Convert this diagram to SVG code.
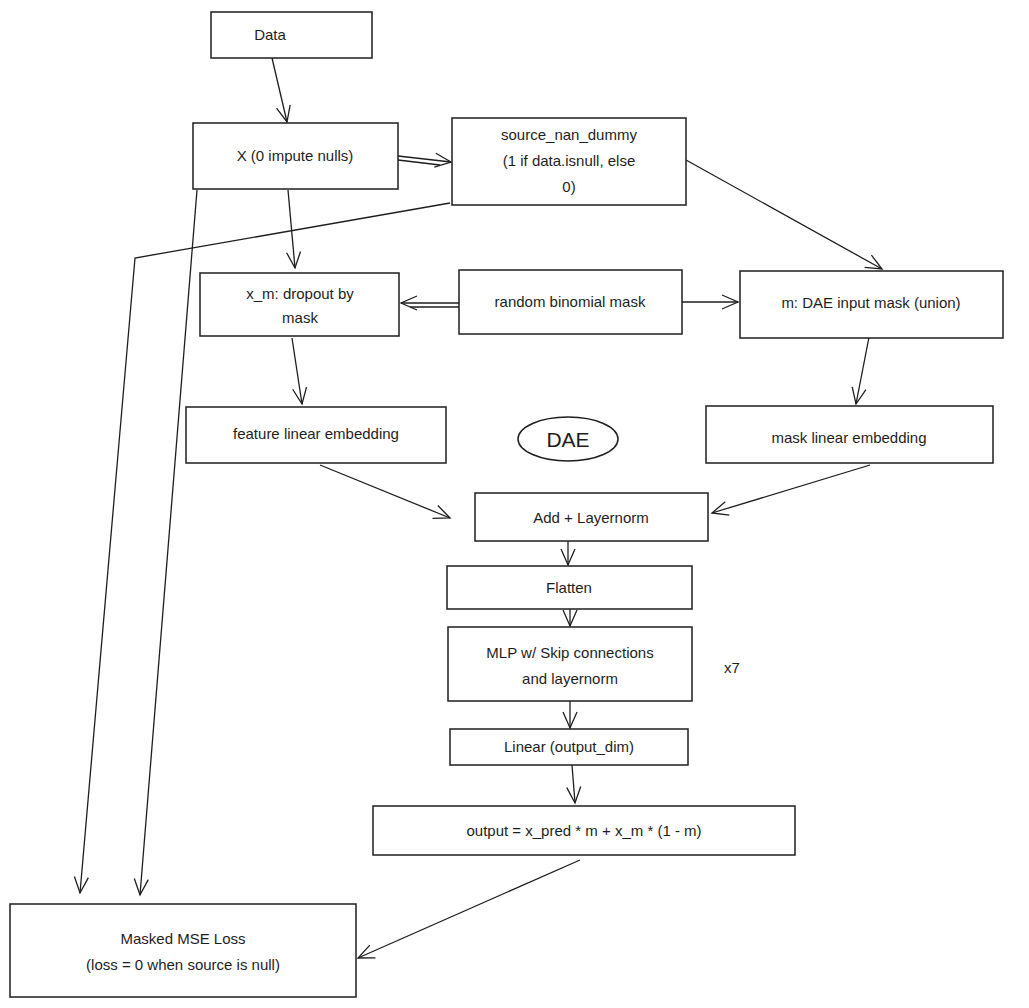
<svg xmlns="http://www.w3.org/2000/svg" width="1029" height="1008" viewBox="0 0 1029 1008">
<style>
.n{fill:#fff;stroke:#1e1e1e;stroke-width:1.5}
.t{font-family:"Liberation Sans",sans-serif;font-size:15px;fill:#1e1e1e;text-anchor:middle}
.c line,.c polyline{stroke:#1e1e1e;stroke-width:1.3;fill:none}
</style>
<defs><marker id="a" viewBox="0 0 20 20" refX="18" refY="10" markerWidth="20" markerHeight="20" markerUnits="userSpaceOnUse" orient="auto"><path d="M2,3 L18,10 L2,17" fill="none" stroke="#1e1e1e" stroke-width="1.3"/></marker></defs>
<rect width="1029" height="1008" fill="#fff"/>
<g class="c">
<line x1="272" y1="58" x2="287" y2="122" marker-end="url(#a)"/>
<line x1="398" y1="156" x2="451" y2="162" marker-end="url(#a)"/>
<line x1="398" y1="160" x2="440" y2="165"/>
<line x1="288" y1="190" x2="295" y2="268" marker-end="url(#a)"/>
<line x1="686" y1="160" x2="882" y2="269" marker-end="url(#a)"/>
<polyline points="450,203 135,258 80,893" marker-end="url(#a)"/>
<line x1="197" y1="190" x2="140" y2="895" marker-end="url(#a)"/>
<line x1="459" y1="303" x2="401" y2="303" marker-end="url(#a)"/>
<line x1="459" y1="307" x2="410" y2="307"/>
<line x1="682" y1="302" x2="738" y2="302" marker-end="url(#a)"/>
<line x1="292" y1="338" x2="302" y2="404" marker-end="url(#a)"/>
<line x1="870" y1="332" x2="856" y2="404" marker-end="url(#a)"/>
<line x1="320" y1="465" x2="450" y2="518" marker-end="url(#a)"/>
<line x1="870" y1="465" x2="712" y2="513" marker-end="url(#a)"/>
<line x1="568" y1="541" x2="568" y2="565" marker-end="url(#a)"/>
<line x1="570" y1="609" x2="570" y2="626" marker-end="url(#a)"/>
<line x1="570" y1="701" x2="570" y2="728" marker-end="url(#a)"/>
<line x1="572" y1="765" x2="575" y2="803" marker-end="url(#a)"/>
<line x1="580" y1="860" x2="358" y2="958" marker-end="url(#a)"/>
</g>
<g id="data"><rect class="n" x="211" y="12" width="161" height="46"/><text class="t" x="270" y="40">Data</text></g>
<g id="x"><rect class="n" x="193" y="123" width="205" height="66"/><text class="t" x="295" y="161">X (0 impute nulls)</text></g>
<g id="src"><rect class="n" x="452" y="118" width="234" height="87"/><text class="t" x="569" y="140">source_nan_dummy</text><text class="t" x="569" y="166">(1 if data.isnull, else</text><text class="t" x="569" y="192">0)</text></g>
<g id="xm"><rect class="n" x="200" y="273" width="199" height="63"/><text class="t" x="300" y="299">x_m: dropout by</text><text class="t" x="300" y="323">mask</text></g>
<g id="rbm"><rect class="n" x="459" y="270" width="223" height="64"/><text class="t" x="570" y="307">random binomial mask</text></g>
<g id="m"><rect class="n" x="740" y="271" width="263" height="67"/><text class="t" x="871" y="308">m: DAE input mask (union)</text></g>
<g id="fle"><rect class="n" x="186" y="407" width="260" height="56"/><text class="t" x="316" y="439">feature linear embedding</text></g>
<g id="dae"><ellipse cx="568" cy="439" rx="50" ry="22" fill="#fff" stroke="#1e1e1e" stroke-width="1.5"/><text class="t" x="568" y="447" style="font-size:21px">DAE</text></g>
<g id="mle"><rect class="n" x="706" y="406" width="287" height="57"/><text class="t" x="849" y="443">mask linear embedding</text></g>
<g id="add"><rect class="n" x="475" y="493" width="233" height="48"/><text class="t" x="591" y="523">Add + Layernorm</text></g>
<g id="flat"><rect class="n" x="447" y="566" width="245" height="43"/><text class="t" x="569" y="593">Flatten</text></g>
<g id="mlp"><rect class="n" x="448" y="627" width="244" height="74"/><text class="t" x="570" y="658">MLP w/ Skip connections</text><text class="t" x="570" y="684">and layernorm</text></g>
<text class="t" x="732" y="673">x7</text>
<g id="lin"><rect class="n" x="450" y="729" width="238" height="36"/><text class="t" x="569" y="752">Linear (output_dim)</text></g>
<g id="out"><rect class="n" x="373" y="806" width="422" height="49"/><text class="t" x="584" y="836">output = x_pred * m + x_m * (1 - m)</text></g>
<g id="loss"><rect class="n" x="10" y="904" width="346" height="93"/><text class="t" x="183" y="944">Masked MSE Loss</text><text class="t" x="183" y="970">(loss = 0 when source is null)</text></g>
</svg>
